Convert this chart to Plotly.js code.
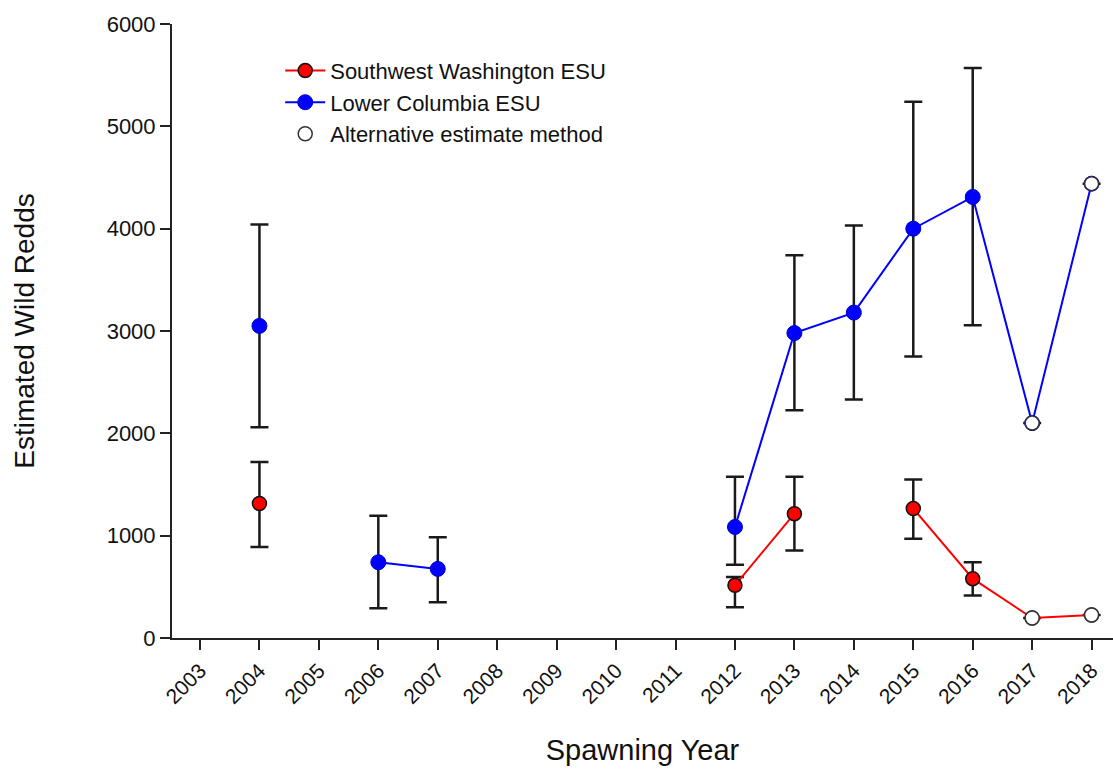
<!DOCTYPE html>
<html>
<head>
<meta charset="utf-8">
<script src="https://cdn.plot.ly/plotly-3.0.1.min.js"></script>
<style>html,body{margin:0;padding:0;background:#fff;}#chart{width:1113px;height:772px;}</style>
</head>
<body>
<div id="chart"></div>
<script>
// Spawning years shown in the data (null = no estimate)
const years = [2004, 2005, 2006, 2007, 2008, 2009, 2010, 2011, 2012, 2013, 2014, 2015, 2016, 2017, 2018];
const tickYears = [2003, 2004, 2005, 2006, 2007, 2008, 2009, 2010, 2011, 2012, 2013, 2014, 2015, 2016, 2017, 2018];
const tickLabels = ["2003", "2004", "2005", "2006", "2007", "2008", "2009", "2010", "2011", "2012", "2013", "2014", "2015", "2016", "2017", "2018"];

// Lower Columbia ESU
const lcEstimate = [3050, null, 740, 675, null, null, null, null, 1085, 2980, 3180, 4000, 4310, 2100, 4440];
const lcUpper    = [4040, null, 1195, 985, null, null, null, null, 1575, 3740, 4030, 5240, 5570, null, null];
const lcLower    = [2060, null, 290, 350, null, null, null, null, 715, 2225, 2330, 2750, 3055, null, null];

// Southwest Washington ESU
const swEstimate = [1315, null, null, null, null, null, null, null, 515, 1215, null, 1265, 580, 195, 225];
const swUpper    = [1720, null, null, null, null, null, null, null, 595, 1575, null, 1550, 740, null, null];
const swLower    = [890, null, null, null, null, null, null, null, 300, 855, null, 970, 415, null, null];

// Points estimated with the alternative method
const altYears = [2017, 2018, 2017, 2018];
const altEstimate = [2100, 4440, 195, 225];

const seriesNames = ["Southwest Washington ESU", "Lower Columbia ESU", "Alternative estimate method"];

function plus(est, up) { return est.map((v, i) => (v == null || up[i] == null) ? null : up[i] - v); }
function minus(est, lo) { return est.map((v, i) => (v == null || lo[i] == null) ? null : v - lo[i]); }

const errStyle = {type: 'data', symmetric: false, color: '#1a1a1a', thickness: 2.5, width: 9};

const lc = {
  x: years, y: lcEstimate, name: seriesNames[1], type: 'scatter', mode: 'lines+markers',
  connectgaps: false, legendrank: 2,
  line: {color: '#0000ff', width: 2},
  marker: {color: '#0000ff', size: 15, line: {color: '#0000cc', width: 1}},
  error_y: Object.assign({}, errStyle, {array: plus(lcEstimate, lcUpper), arrayminus: minus(lcEstimate, lcLower)})
};
const sw = {
  x: years, y: swEstimate, name: seriesNames[0], type: 'scatter', mode: 'lines+markers',
  connectgaps: false, legendrank: 1,
  line: {color: '#ff0000', width: 2},
  marker: {color: '#ff0000', size: 14, line: {color: '#111111', width: 1.5}},
  error_y: Object.assign({}, errStyle, {array: plus(swEstimate, swUpper), arrayminus: minus(swEstimate, swLower)})
};
const alt = {
  x: altYears, y: altEstimate, name: seriesNames[2], type: 'scatter', mode: 'markers', legendrank: 3,
  marker: {color: '#ffffff', size: 14, line: {color: '#333333', width: 1.5}}
};

const font = 'Liberation Sans, Arial, sans-serif';
const layout = {
  width: 1113, height: 772,
  paper_bgcolor: '#ffffff', plot_bgcolor: '#ffffff',
  margin: {l: 172, r: 0, t: 24, b: 134},
  font: {family: font, color: '#111111'},
  showlegend: true,
  legend: {x: 0.115, y: 0.958, xanchor: 'left', yanchor: 'top', bgcolor: 'rgba(0,0,0,0)',
           font: {family: font, size: 22, color: '#111111'}, tracegroupgap: 0, itemwidth: 40},
  xaxis: {
    range: [2002.529, 2018.36], tickmode: 'array', tickvals: tickYears, ticktext: tickLabels,
    tickangle: -45, ticks: 'outside', ticklen: 10, tickwidth: 2, tickcolor: '#222',
    showline: true, linecolor: '#222', linewidth: 2, showgrid: false, zeroline: false,
    tickfont: {family: font, size: 21, color: '#111'},
    title: {text: 'Spawning Year', font: {family: font, size: 29, color: '#111'}, standoff: 33}
  },
  yaxis: {
    range: [0, 6000], tickvals: [0, 1000, 2000, 3000, 4000, 5000, 6000],
    ticks: 'outside', ticklen: 10, tickwidth: 2, tickcolor: '#222',
    showline: true, linecolor: '#222', linewidth: 2, showgrid: false, zeroline: false,
    tickfont: {family: font, size: 22, color: '#111'},
    title: {text: 'Estimated Wild Redds', font: {family: font, size: 28, color: '#111'}, standoff: 64}
  }
};

Plotly.newPlot('chart', [lc, sw, alt], layout, {displayModeBar: false, staticPlot: true});
</script>
</body>
</html>
